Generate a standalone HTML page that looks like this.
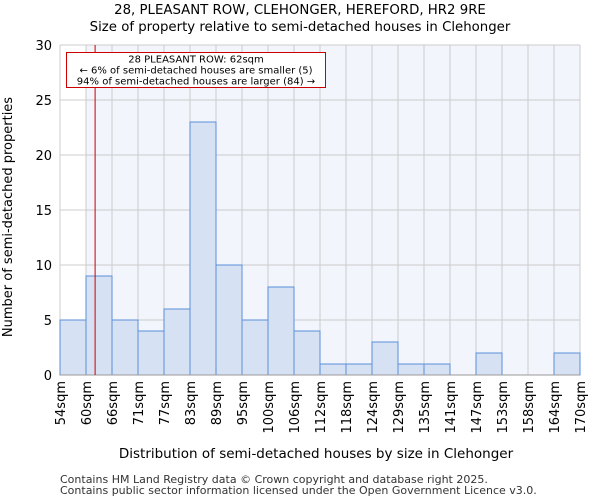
<!DOCTYPE html>
<html><head><meta charset="utf-8"><style>
body{margin:0;background:#fff;font-family:"DejaVu Sans","Liberation Sans",sans-serif;}
</style></head><body>
<svg id="c" width="600" height="500" xmlns="http://www.w3.org/2000/svg" font-family="DejaVu Sans, Liberation Sans, sans-serif">
<text x="300" y="14" text-anchor="middle" font-size="13.3">28, PLEASANT ROW, CLEHONGER, HEREFORD, HR2 9RE</text>
<text x="300" y="31" text-anchor="middle" font-size="13.3">Size of property relative to semi-detached houses in Clehonger</text>
<g id="plot"></g>
<text x="316" y="458" text-anchor="middle" font-size="13.5">Distribution of semi-detached houses by size in Clehonger</text>
<text transform="translate(12,217) rotate(-90)" text-anchor="middle" font-size="13">Number of semi-detached properties</text>
<text x="60" y="483" font-size="11" fill="#333">Contains HM Land Registry data © Crown copyright and database right 2025.</text>
<text x="60" y="494" font-size="11" fill="#333">Contains public sector information licensed under the Open Government Licence v3.0.</text>
</svg>
<script>
const labels=["54sqm","60sqm","66sqm","71sqm","77sqm","83sqm","89sqm","95sqm","100sqm","106sqm","112sqm","118sqm","124sqm","129sqm","135sqm","141sqm","147sqm","153sqm","158sqm","164sqm","170sqm"];
const counts=[5,9,5,4,6,23,10,5,8,4,1,1,3,1,1,0,2,0,0,2];
const yTicks=[0,5,10,15,20,25,30];
const marker=1.35;
const X0=60,X1=580,Y0=375,Y1=45,ymax=30;
const bw=(X1-X0)/counts.length;
const xs=i=>X0+i*bw, ys=v=>Y0-(Y0-Y1)*v/ymax;
const NS="http://www.w3.org/2000/svg",g=document.getElementById('plot');
function mk(t,a,p){const e=document.createElementNS(NS,t);for(const k in a)e.setAttribute(k,a[k]);(p||g).appendChild(e);return e;}
let bg=mk('rect',{x:X0+bw,y:Y1,width:X1-X0-bw,height:Y0-Y1,fill:'#f2f5fc'});


for(const t of yTicks){
 let l=mk('line',{x1:X0,x2:X1,y1:ys(t),y2:ys(t),stroke:'#ccc'});
 
 
 let tx=mk('text',{x:X0-8,y:ys(t)+5,'text-anchor':'end','font-size':13});tx.textContent=t;
 
 
}
labels.forEach((s,i)=>{
 let l=mk('line',{x1:xs(i),x2:xs(i),y1:Y1,y2:Y0,stroke:'#ccc'});
 
 
 let tx=mk('text',{transform:`translate(${xs(i)+5},381) rotate(-90)`,'text-anchor':'end','font-size':13});tx.textContent=s;
 
 
});
counts.forEach((v,i)=>{
 if(!v)return;
 let r=mk('rect',{x:xs(i),y:ys(v),width:bw,height:Y0-ys(v),fill:'#d6e1f3',stroke:'#5b8fd8','stroke-width':1});
 
 
});
let ax=mk('line',{x1:X0,x2:X1,y1:Y0,y2:Y0,stroke:'#999'});


let mx=xs(marker);
let ml=mk('line',{x1:mx,x2:mx,y1:Y1,y2:Y0,stroke:'#c00','stroke-width':1});


let box=mk('g',{});


mk('rect',{x:66.5,y:52.5,width:259,height:35,fill:'#fff',stroke:'#c00'},box);
["28 PLEASANT ROW: 62sqm","← 6% of semi-detached houses are smaller (5)","94% of semi-detached houses are larger (84) →"].forEach((s,k)=>{
 let t=mk('text',{x:196,y:62.5+k*11,'text-anchor':'middle','font-size':10},box);t.textContent=s;
 
 
});
</script>
</body></html>
